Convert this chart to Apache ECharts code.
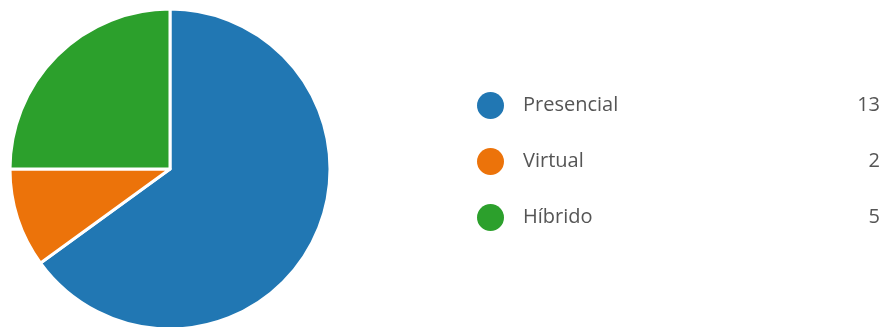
<!DOCTYPE html>
<html>
<head>
<meta charset="utf-8">
<script src="https://cdn.jsdelivr.net/npm/echarts@6/dist/echarts.min.js"></script>
<style>
  html, body { margin: 0; padding: 0; background: #ffffff; }
  #chart { width: 891px; height: 327px; }
</style>
</head>
<body>
<div id="chart"></div>
<script>
// Modalidad de las respuestas
const categories = ['Presencial', 'Virtual', 'Híbrido'];
const counts = [13, 2, 5];
const colors = ['#2177b3', '#ec730a', '#2ca02c'];

const valueOf = {};
categories.forEach((c, i) => { valueOf[c] = counts[i]; });

const font = '"Open Sans", sans-serif';

const chart = echarts.init(document.getElementById('chart'), null, { renderer: 'canvas' });
chart.setOption({
  animation: false,
  color: colors,
  legend: {
    orient: 'vertical',
    left: 477,
    top: 92,
    padding: 0,
    icon: 'circle',
    itemWidth: 27,
    itemHeight: 27,
    itemGap: 29,
    itemStyle: { borderWidth: 0 },
    selectedMode: false,
    data: categories,
    formatter: name => '{n|' + name + '}{v|' + valueOf[name] + '}',
    textStyle: {
      fontFamily: font,
      fontSize: 20,
      color: '#555555',
      rich: {
        n: { width: 327, lineHeight: 27, padding: [0, 0, 0, 14], fontSize: 20, color: '#555555', fontFamily: font },
        v: { width: 30, lineHeight: 27, align: 'right', fontSize: 20, color: '#555555', fontFamily: font }
      }
    }
  },
  series: [{
    type: 'pie',
    center: [170, 169],
    radius: [0, 160],
    startAngle: 90,
    clockwise: true,
    label: { show: false },
    labelLine: { show: false },
    emphasis: { disabled: true },
    itemStyle: { borderColor: '#ffffff', borderWidth: 3 },
    data: categories.map((c, i) => ({ name: c, value: counts[i] }))
  }]
});
</script>
</body>
</html>
